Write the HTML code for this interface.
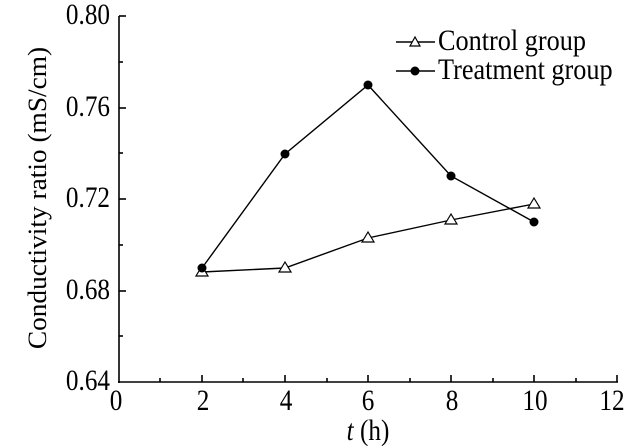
<!DOCTYPE html>
<html><head><style>body{margin:0;background:#fff}svg{display:block}</style></head><body>
<svg width="631" height="446" xmlns="http://www.w3.org/2000/svg" font-family="Liberation Serif, serif" fill="#000">
<g stroke="#000" stroke-width="1.6" fill="none">
<line x1="119" y1="16" x2="119" y2="383"/>
<line x1="118" y1="382" x2="618" y2="382"/>
<line x1="119" y1="16" x2="126" y2="16"/><line x1="119" y1="62" x2="123" y2="62"/>
<line x1="119" y1="108" x2="126" y2="108"/><line x1="119" y1="153" x2="123" y2="153"/>
<line x1="119" y1="199" x2="126" y2="199"/><line x1="119" y1="245" x2="123" y2="245"/>
<line x1="119" y1="291" x2="126" y2="291"/><line x1="119" y1="336" x2="123" y2="336"/>
<line x1="160" y1="382" x2="160" y2="378"/><line x1="202" y1="382" x2="202" y2="375"/>
<line x1="243" y1="382" x2="243" y2="378"/><line x1="285" y1="382" x2="285" y2="375"/>
<line x1="327" y1="382" x2="327" y2="378"/><line x1="368" y1="382" x2="368" y2="375"/>
<line x1="410" y1="382" x2="410" y2="378"/><line x1="451" y1="382" x2="451" y2="375"/>
<line x1="493" y1="382" x2="493" y2="378"/><line x1="534" y1="382" x2="534" y2="375"/>
<line x1="576" y1="382" x2="576" y2="378"/><line x1="617" y1="382" x2="617" y2="375"/>
</g>
<g font-size="24" text-anchor="end">
<text transform="translate(110,24) scale(1.05,1.25)">0.80</text>
<text transform="translate(110,116) scale(1.05,1.25)">0.76</text>
<text transform="translate(110,207) scale(1.05,1.25)">0.72</text>
<text transform="translate(110,299) scale(1.05,1.25)">0.68</text>
<text transform="translate(110,390) scale(1.05,1.25)">0.64</text>
</g>
<g font-size="24" text-anchor="middle">
<text transform="translate(116,410) scale(1.05,1.25)">0</text>
<text transform="translate(203,410) scale(1.05,1.25)">2</text>
<text transform="translate(286,410) scale(1.05,1.25)">4</text>
<text transform="translate(368,410) scale(1.05,1.25)">6</text>
<text transform="translate(452,410) scale(1.05,1.25)">8</text>
<text transform="translate(535,410) scale(1.05,1.25)">10</text>
<text transform="translate(612,410) scale(1.05,1.25)">12</text>
<text transform="translate(368,440) scale(1.05,1.25)"><tspan font-style="italic">t</tspan> (h)</text>
<text transform="translate(46,198) rotate(-90) scale(1.14,1.1)">Conductivity ratio (mS/cm)</text>
</g>
<g stroke="#000" stroke-width="1.4" fill="none">
<polyline points="202,272 285,268 368,238 451,220 534,204"/>
<polyline points="202,268 285,154 368,85 451,176 534,222"/>
<line x1="396" y1="42" x2="435" y2="42"/><line x1="396" y1="71" x2="435" y2="71"/>
</g>
<g stroke="#000" stroke-width="1.2" fill="#fff">
<path d="M202,266 l-6,10 h12z"/><path d="M285,262 l-6,10 h12z"/><path d="M368,232 l-6,10 h12z"/>
<path d="M451,214 l-6,10 h12z"/><path d="M534,198 l-6,10 h12z"/><path d="M415,37 l-5,9 h10z"/>
</g>
<g>
<circle cx="202" cy="268" r="4.5"/><circle cx="285" cy="154" r="4.5"/><circle cx="368" cy="85" r="4.5"/>
<circle cx="451" cy="176" r="4.5"/><circle cx="534" cy="222" r="4.5"/><circle cx="415" cy="71" r="4.5"/>
</g>
<g font-size="25">
<text transform="translate(438,50) scale(1.05,1.2)">Control group</text>
<text transform="translate(438,79) scale(1.05,1.2)">Treatment group</text>
</g>
</svg>
</body></html>
